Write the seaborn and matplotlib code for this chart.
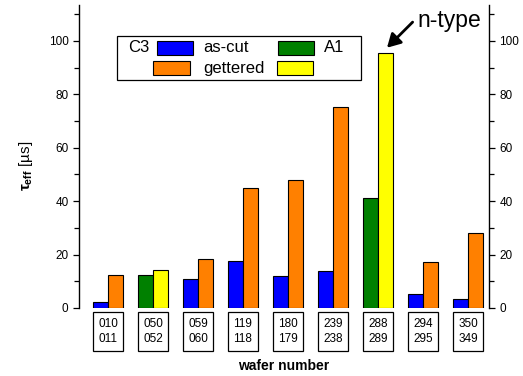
import matplotlib
matplotlib.use("Agg")
import matplotlib.pyplot as plt
from matplotlib.patches import Rectangle
from matplotlib.ticker import MultipleLocator
import seaborn as sns
import pandas as pd

# ---- data ----
wafers = ["010\n011", "050\n052", "059\n060", "119\n118", "180\n179",
          "239\n238", "288\n289", "294\n295", "350\n349"]
material = ["C3", "A1", "C3", "C3", "C3", "C3", "A1", "C3", "C3"]
as_cut = [2.4, 12.2, 10.7, 17.6, 11.9, 14.0, 41.2, 5.2, 3.3]
gettered = [12.2, 14.4, 18.2, 44.8, 47.8, 75.4, 95.6, 17.2, 28.0]
states = ["as-cut", "gettered"]
c3_colors = ["#0000ff", "#ff8000"]
a1_colors = ["#008000", "#ffff00"]

rows = []
for w, m, a, g in zip(wafers, material, as_cut, gettered):
    rows.append(dict(wafer=w, material=m, state="as-cut", tau=a))
    rows.append(dict(wafer=w, material=m, state="gettered", tau=g))
df = pd.DataFrame(rows)

sns.set_style("ticks")
plt.rcParams["font.family"] = ["Liberation Sans", "DejaVu Sans"]
plt.rcParams["text.color"] = "black"
plt.rcParams["axes.labelcolor"] = "black"
plt.rcParams["xtick.color"] = "black"
plt.rcParams["ytick.color"] = "black"
plt.rcParams["axes.edgecolor"] = "black"
plt.rcParams["mathtext.fontset"] = "custom"
plt.rcParams["mathtext.rm"] = "Liberation Sans"
plt.rcParams["mathtext.bf"] = "Liberation Sans:bold"
plt.rcParams["mathtext.it"] = "Liberation Sans:italic"

W, H = 523, 376
fig = plt.figure(figsize=(W / 100, H / 100), dpi=100)
ax = fig.add_axes([79 / W, 68 / H, 410 / W, 303 / H])

for mat, pal in (("C3", c3_colors), ("A1", a1_colors)):
    sns.barplot(data=df[df.material == mat], x="wafer", y="tau", hue="state",
                order=wafers, hue_order=states, palette=pal, width=0.667,
                errorbar=None, edgecolor="black", linewidth=0.8,
                saturation=1, legend=False, ax=ax)

ax.set_xlim(-0.644, 8.467)
ax.set_ylim(0, 113.4)
ax.yaxis.set_major_locator(MultipleLocator(20))
ax.yaxis.set_minor_locator(MultipleLocator(10))
ax.spines["top"].set_visible(False)
ax.spines["bottom"].set_visible(False)
for s in ("left", "right"):
    ax.spines[s].set_visible(True)
    ax.spines[s].set_linewidth(1.0)
    ax.spines[s].set_color("black")
ax.tick_params(axis="y", which="both", direction="out", left=True, right=True,
               labelleft=True, labelright=True, labelsize=8.5, width=0.9,
               colors="black")
ax.tick_params(axis="y", which="major", length=4)
ax.tick_params(axis="y", which="minor", length=3.5)
ax.tick_params(axis="x", length=0, pad=7, labelsize=8.5, colors="black")
for lbl in ax.get_xticklabels():
    lbl.set_linespacing(1.4)
    lbl.set_bbox(dict(boxstyle="square,pad=0.45", fc="white", ec="black", lw=0.9))

ax.set_xlabel("wafer number", fontsize=10, fontweight="bold", labelpad=10)
ax.set_ylabel(r"$\mathbf{\tau}_{\mathbf{eff}}$ [µs]", fontsize=11)
ax.yaxis.set_label_coords(-0.108, 0.47)

# legend (manual, laid out like the original)
def fx(px):
    return px / W

def fy(py):
    return 1 - py / H

fig.patches.append(Rectangle((fx(117), fy(80)), fx(361) - fx(117), fy(36) - fy(80),
                             transform=fig.transFigure, fc="white", ec="black", lw=0.9))
patches = [((157, 41, 193, 55), c3_colors[0]), ((278, 41, 314, 55), a1_colors[0]),
           ((153, 61, 190, 75), c3_colors[1]), ((277, 61, 313, 75), a1_colors[1])]
for (x0, y0, x1, y1), c in patches:
    fig.patches.append(Rectangle((fx(x0), fy(y1)), fx(x1) - fx(x0), fy(y0) - fy(y1),
                                 transform=fig.transFigure, fc=c, ec="black", lw=0.8))
for txt, px, py in (("C3", 128, 48), (states[0], 203, 48), ("A1", 324, 48),
                    (states[1], 203, 68)):
    fig.text(fx(px), fy(py), txt, fontsize=12, ha="left", va="center")

# n-type annotation
idx = wafers.index("288\n289")
ax.text(idx + 0.87, 107.6, "n-type", fontsize=16.5, ha="left", va="center")
ax.annotate("", xy=(idx + 0.2, gettered[idx] + 1.8), xytext=(idx + 0.77, 107.0),
            arrowprops=dict(arrowstyle="-|>,head_length=0.8,head_width=0.45",
                            color="black", lw=2, shrinkA=0, shrinkB=0))

fig.savefig("out.png", dpi=100)
